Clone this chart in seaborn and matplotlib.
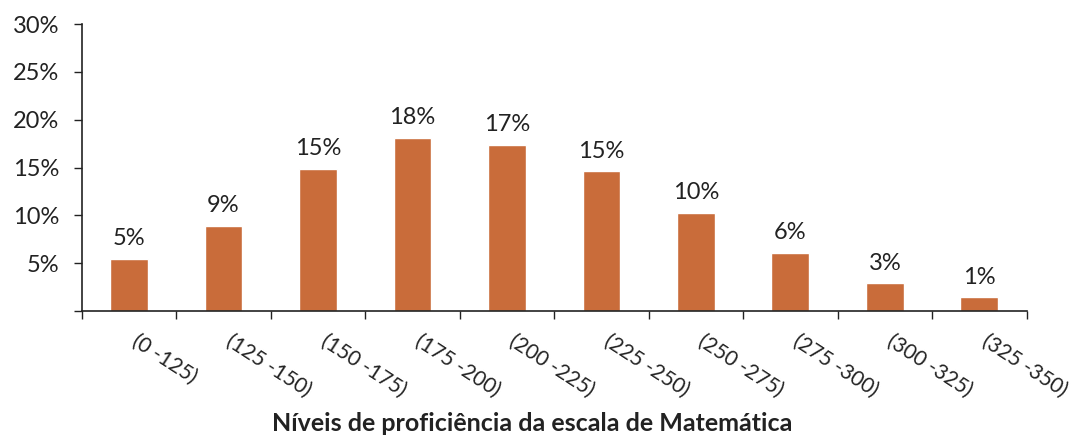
import numpy as np
import pandas as pd
import matplotlib
matplotlib.use("Agg")
import matplotlib.pyplot as plt
import matplotlib.transforms as mtransforms
import seaborn as sns

# Dados
niveis = ["(0 -125)", "(125 -150)", "(150 -175)", "(175 -200)", "(200 -225)",
          "(225 -250)", "(250 -275)", "(275 -300)", "(300 -325)", "(325 -350)"]
percentuais = [5.5, 8.9, 14.9, 18.1, 17.4, 14.6, 10.3, 6.1, 2.9, 1.45]
rotulos = ["5%", "9%", "15%", "18%", "17%", "15%", "10%", "6%", "3%", "1%"]
yticks = [0, 5, 10, 15, 20, 25, 30]
ytick_labels = ["", "5%", "10%", "15%", "20%", "25%", "30%"]

sns.set_style("white")
plt.rcParams['font.family'] = ['Lato', 'DejaVu Sans']

df = pd.DataFrame({"nivel": niveis, "pct": percentuais})

fig = plt.figure(figsize=(10.75, 4.37), dpi=100)
ax = fig.add_axes([0.076, 0.288, 0.879, 0.657])

sns.barplot(data=df, x="nivel", y="pct", color="#C96C3A", saturation=1,
            width=0.4, ax=ax)

ax.bar_label(ax.containers[0], labels=rotulos, padding=7, fontsize=17,
             color="#222222")

ax.set_ylim(0, 30)
ax.set_xlim(-0.5, len(niveis) - 0.5)
ax.set_yticks(yticks)
ax.set_yticklabels(ytick_labels, fontsize=17, color="#222222")

# ticks nos limites das categorias, rótulos no centro
ax.set_xticks(np.arange(-0.5, len(niveis), 1.0))
ax.set_xticklabels([])
ax.set_xticks(np.arange(len(niveis)), minor=True)
ax.set_xticklabels(niveis, minor=True, rotation=-33, ha="left", va="top",
                   rotation_mode="anchor", fontsize=15, color="#222222")
ax.tick_params(axis="x", which="minor", length=0, pad=14)
ax.tick_params(axis="x", which="major", direction="out", length=6, width=1,
               color="#222222", bottom=True)
ax.tick_params(axis="y", direction="out", length=6, width=1, color="#222222",
               left=True, pad=10)

shift = mtransforms.ScaledTranslation(10 / 100, 0, fig.dpi_scale_trans)
for lab in ax.get_xticklabels(minor=True):
    lab.set_transform(lab.get_transform() + shift)

for s in ["top", "right"]:
    ax.spines[s].set_visible(False)
for s in ["left", "bottom"]:
    ax.spines[s].set_color("#222222")
    ax.spines[s].set_linewidth(1.2)

ax.set_xlabel("")
ax.set_ylabel("")
fig.text(0.495, 0.004, "Níveis de proficiência da escala de Matemática",
         ha="center", va="bottom", fontsize=18, fontweight="bold",
         color="#222222")

fig.savefig("out.png", dpi=100)
